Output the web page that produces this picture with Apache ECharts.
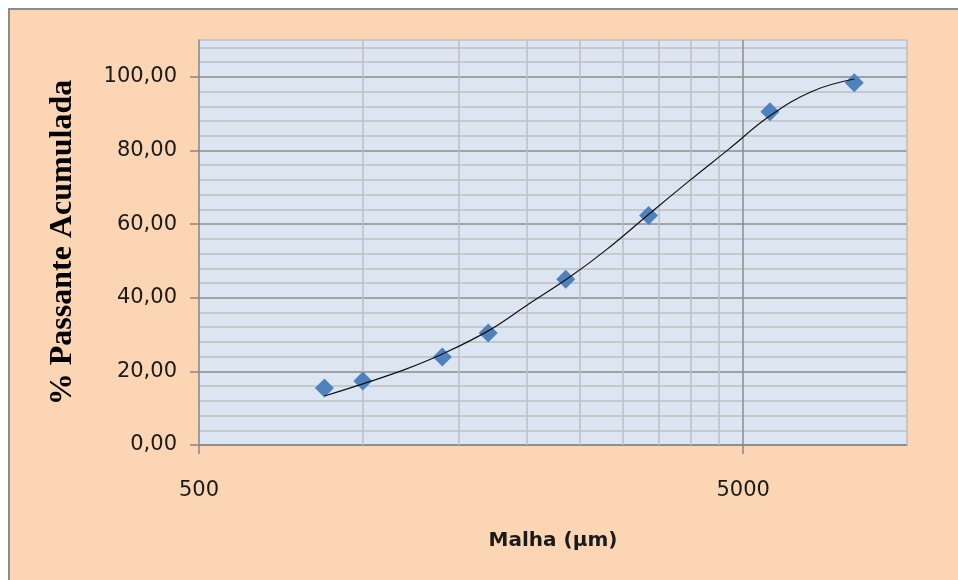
<!DOCTYPE html>
<html>
<head>
<meta charset="utf-8">
<script src="https://cdn.jsdelivr.net/npm/echarts@6/dist/echarts.min.js"></script>
<style>
  html, body { margin: 0; padding: 0; background: #ffffff; overflow: hidden; width: 958px; height: 580px; }
  #frame { position: absolute; left: 8px; top: 8px; width: 960px; height: 580px;
           background: #FCD5B4; border-top: 2px solid #8c8c8c; border-left: 2px solid #8c8c8c; }
  #chart { position: absolute; left: 0; top: 0; width: 958px; height: 580px; }
</style>
</head>
<body>
<div id="frame"></div>
<div id="chart"></div>
<script>
// ---- data ----
const meshSizes = [850, 1000, 1400, 1700, 2360, 3350, 5600, 8000];        // µm
const passing   = [15.5, 17.4, 23.9, 30.4, 45.0, 62.3, 90.5, 98.4];       // % passante acumulada
const trendX    = [850, 1000, 1200, 1400, 1700, 2000, 2400, 2800, 3350, 4000, 4700, 5600, 6700, 8000];
const trendY    = [13.3, 16.6, 20.6, 24.7, 31.0, 37.9, 45.6, 53.0, 62.6, 72.0, 80.3, 89.4, 96.1, 99.4];
const xTickLabels = [500, 5000];
const yTickLabels = [0, 20, 40, 60, 80, 100];
const xMinorGrid  = [1000, 1500, 2000, 2500, 3000, 3500, 4000, 4500, 10000];
const xMajorGrid  = [5000];

const chart = echarts.init(document.getElementById('chart'), null, { renderer: 'canvas' });

const fmtComma = v => v.toFixed(2).replace('.', ',');

const gridLines = xMinorGrid.map(v => ({ xAxis: v, lineStyle: { color: '#bfbfbf', width: 1.5, type: 'solid' } }))
  .concat(xMajorGrid.map(v => ({ xAxis: v, lineStyle: { color: '#8c8c8c', width: 1.5, type: 'solid' } })));

const labelFont = { fontFamily: 'DejaVu Sans', fontSize: 21, color: '#1a1a1a' };

chart.setOption({
  backgroundColor: 'transparent',
  animation: false,
  grid: { left: 199, top: 40, width: 708, height: 405, show: true, backgroundColor: '#DCE6F2', borderWidth: 0 },
  xAxis: {
    type: 'log', logBase: 10, min: 500, max: 10000,
    name: 'Malha (µm)', nameLocation: 'middle', nameGap: 86,
    nameTextStyle: { fontFamily: 'DejaVu Sans', fontWeight: 'bold', fontSize: 20, color: '#1a1a1a' },
    axisLine: { show: true, lineStyle: { color: '#868686', width: 1.5 } },
    axisTick: { show: true, length: 9, customValues: xTickLabels, lineStyle: { color: '#868686', width: 1.5 } },
    axisLabel: Object.assign({ customValues: xTickLabels, margin: 35, formatter: v => String(Math.round(v)) }, labelFont),
    splitLine: { show: false },
    minorTick: { show: false }
  },
  yAxis: [
    {
      type: 'value', min: 0, max: 110, position: 'left', z: 3,
      name: '% Passante Acumulada', nameLocation: 'middle', nameGap: 120, nameRotate: 90,
      nameTextStyle: { fontFamily: 'Liberation Serif', fontWeight: 'bold', fontSize: 32, color: '#000000' },
      axisLine: { show: true, lineStyle: { color: '#868686', width: 1.5 } },
      axisTick: { show: true, length: 9, customValues: yTickLabels, lineStyle: { color: '#868686', width: 1.5 } },
      axisLabel: Object.assign({ customValues: yTickLabels, margin: 22, formatter: v => fmtComma(v) }, labelFont),
      splitLine: { show: false }
    },
    {
      type: 'value', min: 0, max: 110, interval: 4, position: 'left', z: 0,
      axisLine: { show: false }, axisTick: { show: false }, axisLabel: { show: false },
      splitLine: { show: true, lineStyle: { color: ['#8c8c8c', '#bfbfbf', '#bfbfbf', '#bfbfbf', '#bfbfbf'], width: 1.5 } }
    }
  ],
  series: [
    {
      type: 'line', name: 'grid', data: [], z: 1, silent: true, yAxisIndex: 0,
      markLine: { z: 1, silent: true, symbol: ['none', 'none'], label: { show: false }, animation: false, data: gridLines }
    },
    {
      type: 'scatter', name: 'Passante', z: 3, yAxisIndex: 0,
      symbol: 'diamond', symbolSize: 19,
      itemStyle: { color: '#4F81BD', opacity: 1 },
      data: meshSizes.map((x, i) => [x, passing[i]])
    },
    {
      type: 'line', name: 'Tendência', z: 4, smooth: 0.4, showSymbol: false, symbol: 'none', yAxisIndex: 0,
      lineStyle: { color: '#111111', width: 1.2 },
      data: trendX.map((x, i) => [x, trendY[i]])
    }
  ]
});
</script>
</body>
</html>
